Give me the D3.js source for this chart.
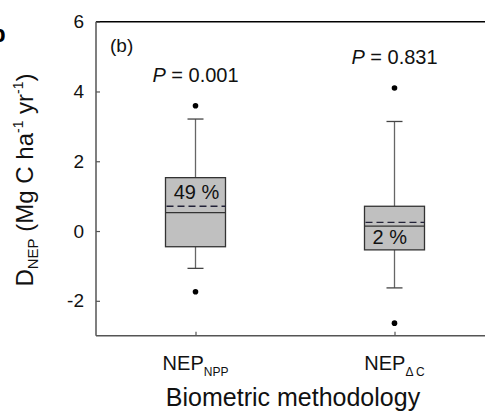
<!DOCTYPE html>
<html>
<head>
<meta charset="utf-8">
<script src="https://cdn.jsdelivr.net/npm/d3@7"></script>
<style>
  html, body { margin: 0; padding: 0; background: #fff; }
  svg { display: block; font-family: "Liberation Sans", Arial, sans-serif; }
</style>
</head>
<body>
<svg id="chart" width="485" height="415"></svg>
<script>
// Biometric NEP difference (D_NEP) per methodology, box-plot summaries
const categories = ["NEP_NPP", "NEP_dC"];
const catMain = ["NEP", "NEP"];
const catSub = ["NPP", "\u0394 C"];
const q1 = [-0.45, -0.54];
const median = [0.53, 0.14];
const mean = [0.71, 0.25];
const q3 = [1.53, 0.71];
const whiskerLow = [-1.07, -1.63];
const whiskerHigh = [3.21, 3.14];
const outliers = [[3.59, -1.74], [4.10, -2.64]];
const pLabels = ["0.001", "0.831"];
const pctLabels = ["49 %", "2 %"];
const yTicks = [-2, 0, 2, 4, 6];

(function draw() {
const svg = d3.select("#chart");
const plotLeft = 96, plotTop = 21.7, plotBottom = 335.7;

const y = d3.scaleLinear().domain([-3, 6]).range([plotBottom, plotTop]);
const x = d3.scalePoint().domain(categories).range([plotLeft, 494]).padding(0.5);
const boxW = 60, capW = 16;

// axis frame
svg.append("line").attr("x1", plotLeft).attr("x2", 485).attr("y1", plotTop).attr("y2", plotTop)
  .attr("stroke", "#000").attr("stroke-width", 1.6);
svg.append("line").attr("x1", plotLeft).attr("x2", plotLeft).attr("y1", plotTop).attr("y2", plotBottom)
  .attr("stroke", "#555").attr("stroke-width", 1.5);
svg.append("line").attr("x1", plotLeft).attr("x2", 485).attr("y1", plotBottom).attr("y2", plotBottom)
  .attr("stroke", "#555").attr("stroke-width", 1.5);

// y axis (inward ticks, hyphen minus in labels)
const yAxis = d3.axisLeft(y).tickValues(yTicks).tickSize(-4).tickPadding(12)
  .tickFormat(d => String(d));
const gy = svg.append("g").attr("transform", `translate(${plotLeft},0)`).call(yAxis);
gy.select(".domain").remove();
gy.selectAll(".tick line").attr("stroke", "#555").attr("stroke-width", 1.2);
gy.selectAll(".tick text").attr("font-size", 19).attr("fill", "#111")
  .attr("font-family", "Liberation Sans, Arial, sans-serif");

// x axis (inward ticks)
const xAxis = d3.axisBottom(x).tickSize(-4).tickFormat("");
const gx = svg.append("g").attr("transform", `translate(0,${plotBottom})`).call(xAxis);
gx.select(".domain").remove();
gx.selectAll(".tick line").attr("stroke", "#555").attr("stroke-width", 1.2);

// category labels with subscripts
categories.forEach((c, i) => {
  const t = svg.append("text").attr("x", x(c)).attr("y", 370)
    .attr("text-anchor", "middle").attr("fill", "#111").attr("font-size", 20);
  t.append("tspan").text(catMain[i]);
  t.append("tspan").attr("font-size", 12).attr("dy", 6).text(catSub[i]);
});

// boxes
categories.forEach((c, i) => {
  const cx = x(c);
  const g = svg.append("g");
  // whiskers
  g.append("line").attr("x1", cx).attr("x2", cx).attr("y1", y(q3[i])).attr("y2", y(whiskerHigh[i]))
    .attr("stroke", "#666").attr("stroke-width", 1.3);
  g.append("line").attr("x1", cx).attr("x2", cx).attr("y1", y(q1[i])).attr("y2", y(whiskerLow[i]))
    .attr("stroke", "#666").attr("stroke-width", 1.3);
  g.append("line").attr("x1", cx - capW / 2).attr("x2", cx + capW / 2)
    .attr("y1", y(whiskerHigh[i])).attr("y2", y(whiskerHigh[i])).attr("stroke", "#444").attr("stroke-width", 1.3);
  g.append("line").attr("x1", cx - capW / 2).attr("x2", cx + capW / 2)
    .attr("y1", y(whiskerLow[i])).attr("y2", y(whiskerLow[i])).attr("stroke", "#444").attr("stroke-width", 1.3);
  // box
  g.append("rect").attr("x", cx - boxW / 2).attr("width", boxW)
    .attr("y", y(q3[i])).attr("height", y(q1[i]) - y(q3[i]))
    .attr("fill", "#c0c0c0").attr("stroke", "#333").attr("stroke-width", 1.3);
  // median
  g.append("line").attr("x1", cx - boxW / 2).attr("x2", cx + boxW / 2)
    .attr("y1", y(median[i])).attr("y2", y(median[i])).attr("stroke", "#333").attr("stroke-width", 1.3);
  // mean (dashed)
  g.append("line").attr("x1", cx - boxW / 2 + 1).attr("x2", cx + boxW / 2)
    .attr("y1", y(mean[i])).attr("y2", y(mean[i])).attr("stroke", "#222238")
    .attr("stroke-width", 1.3).attr("stroke-dasharray", "7,4");
  // outliers
  g.selectAll("circle").data(outliers[i]).join("circle")
    .attr("cx", cx).attr("cy", d => y(d)).attr("r", 2.8).attr("fill", "#000");
});

// percentage labels inside boxes
svg.append("text").attr("x", x(categories[0]) + 1).attr("y", 199).attr("text-anchor", "middle")
  .attr("font-size", 20).attr("fill", "#111").text(pctLabels[0]);
svg.append("text").attr("x", x(categories[1]) - 22).attr("y", 244).attr("text-anchor", "start")
  .attr("font-size", 20).attr("fill", "#111").text(pctLabels[1]);

// P values
const pY = [82, 64];
categories.forEach((c, i) => {
  const t = svg.append("text").attr("x", x(c)).attr("y", pY[i]).attr("text-anchor", "middle")
    .attr("font-size", 20).attr("fill", "#111");
  t.append("tspan").attr("font-style", "italic").text("P");
  t.append("tspan").text(" = " + pLabels[i]);
});

// panel tag
svg.append("text").attr("x", 110).attr("y", 52).attr("font-size", 19).attr("fill", "#111").text("(b)");
// tail of the neighbouring panel's tag
svg.append("text").attr("x", -9).attr("y", 42).attr("font-size", 24).attr("font-weight", "bold")
  .attr("fill", "#000").text("b");

// axis titles
svg.append("text").attr("x", 293).attr("y", 406).attr("text-anchor", "middle")
  .attr("font-size", 25).attr("fill", "#111").text("Biometric methodology");

const yt = svg.append("text").attr("transform", "translate(33,180) rotate(-90)")
  .attr("text-anchor", "middle").attr("font-size", 24).attr("fill", "#111");
yt.append("tspan").text("D");
yt.append("tspan").attr("font-size", 15).attr("dy", 5).text("NEP");
yt.append("tspan").attr("dy", -5).text(" (Mg C ha");
yt.append("tspan").attr("font-size", 14).attr("dy", -10).text("-1");
yt.append("tspan").attr("dy", 10).text("  yr");
yt.append("tspan").attr("font-size", 14).attr("dy", -10).text("-1");
yt.append("tspan").attr("dy", 10).text(")");
})();
</script>
</body>
</html>
